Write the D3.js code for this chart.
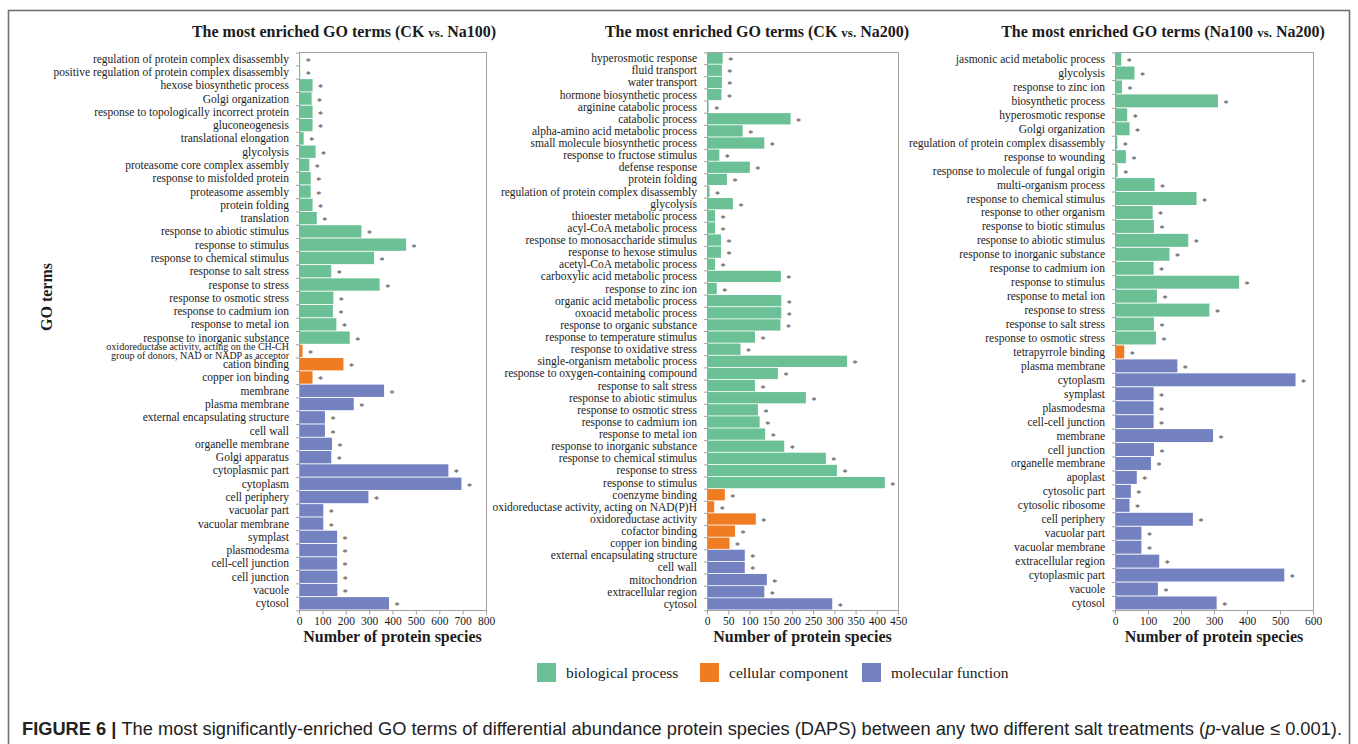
<!DOCTYPE html>
<html>
<head>
<meta charset="utf-8">
<script src="https://cdn.jsdelivr.net/npm/d3@7"></script>
<style>
  body { margin: 0; background: #fff; }
  svg { display: block; }
</style>
</head>
<body>
<svg id="fig" width="1358" height="744"></svg>
<script>
// ---- GO categories (legend order) ----
const categoryLabels = ["biological process", "cellular component", "molecular function"];
const categoryColors = ["#6cc096", "#ef7b22", "#7481c0"];

// ---- CK vs. Na100 ----
const termsCkNa100 = [
  "regulation of protein complex disassembly",
  "positive regulation of protein complex disassembly",
  "hexose biosynthetic process",
  "Golgi organization",
  "response to topologically incorrect protein",
  "gluconeogenesis",
  "translational elongation",
  "glycolysis",
  "proteasome core complex assembly",
  "response to misfolded protein",
  "proteasome assembly",
  "protein folding",
  "translation",
  "response to abiotic stimulus",
  "response to stimulus",
  "response to chemical stimulus",
  "response to salt stress",
  "response to stress",
  "response to osmotic stress",
  "response to cadmium ion",
  "response to metal ion",
  "response to inorganic substance",
  "oxidoreductase activity, acting on the CH-CH\ngroup of donors, NAD or NADP as acceptor",
  "cation binding",
  "copper ion binding",
  "membrane",
  "plasma membrane",
  "external encapsulating structure",
  "cell wall",
  "organelle membrane",
  "Golgi apparatus",
  "cytoplasmic part",
  "cytoplasm",
  "cell periphery",
  "vacuolar part",
  "vacuolar membrane",
  "symplast",
  "plasmodesma",
  "cell-cell junction",
  "cell junction",
  "vacuole",
  "cytosol"
];
const countsCkNa100 = [
  5, 5, 58, 54, 58, 58, 20, 71, 44, 50, 50, 58, 76,
  267, 458, 321, 138, 345, 147, 145, 160, 217,
  15, 190, 58,
  364, 234, 111, 111, 141, 138, 639, 695, 297, 104, 104, 163, 163, 163, 164, 164, 385
];
const categoryCkNa100 = [
  0,0,0,0,0,0,0,0,0,0,0,0,0,0,0,0,0,0,0,0,0,0,
  1,1,1,
  2,2,2,2,2,2,2,2,2,2,2,2,2,2,2,2,2
];
const ticksCkNa100 = [0, 100, 200, 300, 400, 500, 600, 700, 800];

// ---- CK vs. Na200 ----
const termsCkNa200 = [
  "hyperosmotic response",
  "fluid transport",
  "water transport",
  "hormone biosynthetic process",
  "arginine catabolic process",
  "catabolic process",
  "alpha-amino acid metabolic process",
  "small molecule biosynthetic process",
  "response to fructose stimulus",
  "defense response",
  "protein folding",
  "regulation of protein complex disassembly",
  "glycolysis",
  "thioester metabolic process",
  "acyl-CoA metabolic process",
  "response to monosaccharide stimulus",
  "response to hexose stimulus",
  "acetyl-CoA metabolic process",
  "carboxylic acid metabolic process",
  "response to zinc ion",
  "organic acid metabolic process",
  "oxoacid metabolic process",
  "response to organic substance",
  "response to temperature stimulus",
  "response to oxidative stress",
  "single-organism metabolic process",
  "response to oxygen-containing compound",
  "response to salt stress",
  "response to abiotic stimulus",
  "response to osmotic stress",
  "response to cadmium ion",
  "response to metal ion",
  "response to inorganic substance",
  "response to chemical stimulus",
  "response to stress",
  "response to stimulus",
  "coenzyme binding",
  "oxidoreductase activity, acting on NAD(P)H",
  "oxidoreductase activity",
  "cofactor binding",
  "copper ion binding",
  "external encapsulating structure",
  "cell wall",
  "mitochondrion",
  "extracellular region",
  "cytosol"
];
const countsCkNa200 = [
  37, 35, 35, 34, 4, 197, 84, 135, 29, 101, 47, 6, 61, 19, 19,
  33, 33, 19, 174, 23, 175, 175, 173, 113, 79, 330, 167, 113, 233, 120, 124, 137,
  182, 280, 306, 419,
  42, 17, 115, 66, 53,
  89, 89, 141, 135, 295
];
const categoryCkNa200 = [
  0,0,0,0,0,0,0,0,0,0,0,0,0,0,0,0,0,0,0,0,0,0,0,0,0,0,0,0,0,0,0,0,0,0,0,0,
  1,1,1,1,1,
  2,2,2,2,2
];
const ticksCkNa200 = [0, 50, 100, 150, 200, 250, 300, 350, 400, 450];

// ---- Na100 vs. Na200 ----
const termsNa100Na200 = [
  "jasmonic acid metabolic process",
  "glycolysis",
  "response to zinc ion",
  "biosynthetic process",
  "hyperosmotic response",
  "Golgi organization",
  "regulation of protein complex disassembly",
  "response to wounding",
  "response to molecule of fungal origin",
  "multi-organism process",
  "response to chemical stimulus",
  "response to other organism",
  "response to biotic stimulus",
  "response to abiotic stimulus",
  "response to inorganic substance",
  "response to cadmium ion",
  "response to stimulus",
  "response to metal ion",
  "response to stress",
  "response to salt stress",
  "response to osmotic stress",
  "tetrapyrrole binding",
  "plasma membrane",
  "cytoplasm",
  "symplast",
  "plasmodesma",
  "cell-cell junction",
  "membrane",
  "cell junction",
  "organelle membrane",
  "apoplast",
  "cytosolic part",
  "cytosolic ribosome",
  "cell periphery",
  "vacuolar part",
  "vacuolar membrane",
  "extracellular region",
  "cytoplasmic part",
  "vacuole",
  "cytosol"
];
const countsNa100Na200 = [
  19, 59, 21, 312, 37, 44, 7, 33, 8, 120, 247, 114, 118,
  222, 165, 117, 376, 127, 286, 118, 124,
  28,
  189, 547, 117, 117, 117, 297, 118, 109, 66, 48, 44, 236, 80, 80, 134, 513, 130, 308
];
const categoryNa100Na200 = [
  0,0,0,0,0,0,0,0,0,0,0,0,0,0,0,0,0,0,0,0,0,
  1,
  2,2,2,2,2,2,2,2,2,2,2,2,2,2,2,2,2,2
];
const ticksNa100Na200 = [0, 100, 200, 300, 400, 500, 600];

const panelTitles = [
  ["The most enriched GO terms (CK ", "vs.", " Na100)"],
  ["The most enriched GO terms (CK ", "vs.", " Na200)"],
  ["The most enriched GO terms (Na100 ", "vs.", " Na200)"]
];
const xAxisTitle = "Number of protein species";
const yAxisTitle = "GO terms";

// ---- drawing ----
const svg = d3.select("#fig");
const serif = "'Liberation Serif', 'Times New Roman', serif";
const sans = "'Liberation Sans', Arial, Helvetica, sans-serif";
const ink = "#1c1c1c";

// figure frame
svg.append("rect")
  .attr("x", 8.5).attr("y", 10.5)
  .attr("width", 1341).attr("height", 780)
  .attr("fill", "none").attr("stroke", "#707070").attr("stroke-width", 1.6);

const plotTop = 52, plotBottom = 610;

const panels = [
  { terms: termsCkNa100, counts: countsCkNa100, cats: categoryCkNa100, ticks: ticksCkNa100,
    left: 299, right: 486, title: panelTitles[0], titleX: 344 },
  { terms: termsCkNa200, counts: countsCkNa200, cats: categoryCkNa200, ticks: ticksCkNa200,
    left: 707, right: 898, title: panelTitles[1], titleX: 757 },
  { terms: termsNa100Na200, counts: countsNa100Na200, cats: categoryNa100Na200, ticks: ticksNa100Na200,
    left: 1115, right: 1313, title: panelTitles[2], titleX: 1163 }
];

panels.forEach(p => {
  const g = svg.append("g");
  const n = p.terms.length;
  const x = d3.scaleLinear()
    .domain([0, p.ticks[p.ticks.length - 1]])
    .range([p.left, p.right]);
  const y = d3.scaleBand()
    .domain(d3.range(n))
    .range([plotTop, plotBottom])
    .paddingInner(0.07)
    .paddingOuter(0.04);
  const step = y.step();

  // bars
  g.selectAll("rect.bar").data(d3.range(n)).join("rect")
    .attr("class", "bar")
    .attr("x", x(0))
    .attr("y", i => y(i))
    .attr("width", i => Math.max(0.8, x(p.counts[i]) - x(0)))
    .attr("height", y.bandwidth())
    .attr("fill", i => categoryColors[p.cats[i]]);

  // significance stars
  g.selectAll("text.star").data(d3.range(n)).join("text")
    .attr("class", "star")
    .attr("x", i => x(p.counts[i]) + 8)
    .attr("y", i => y(i) + y.bandwidth() / 2 + 6)
    .attr("text-anchor", "middle")
    .attr("font-family", serif)
    .attr("font-size", 10)
    .attr("fill", "#444")
    .text("*");

  // plot frame
  g.append("rect")
    .attr("x", p.left + 0.5).attr("y", plotTop + 0.5)
    .attr("width", p.right - p.left).attr("height", plotBottom - plotTop)
    .attr("fill", "none").attr("stroke", "#a3a3a3").attr("stroke-width", 1);

  // category ticks at band boundaries
  const edge = i => plotTop + y.paddingOuter() * step + i * step
    - (i > 0 && i < n ? y.paddingInner() * step / 2 : 0) + 0.5;
  g.selectAll("line.ytick").data(d3.range(n + 1)).join("line")
    .attr("class", "ytick")
    .attr("x1", p.left - 3).attr("x2", p.left)
    .attr("y1", edge).attr("y2", edge)
    .attr("stroke", "#a3a3a3");

  // category labels
  const labels = g.selectAll("text.term").data(d3.range(n)).join("text")
    .attr("class", "term")
    .attr("text-anchor", "end")
    .attr("font-family", serif)
    .attr("font-size", 11.5)
    .attr("fill", ink);
  labels.each(function(i) {
    const lines = p.terms[i].split("\n");
    const cy = y(i) + y.bandwidth() / 2;
    const t = d3.select(this);
    if (lines.length === 1) {
      t.append("tspan").attr("x", p.left - 10).attr("y", cy + 4).text(lines[0]);
    } else {
      // two-line term squeezed between its neighbours
      t.attr("font-size", 10);
      lines.forEach((ln, k) => {
        t.append("tspan").attr("x", p.left - 10)
          .attr("y", cy + 3.3 + (k - (lines.length - 1) / 2) * 9)
          .text(ln);
      });
    }
  });

  // x axis
  const ax = g.append("g")
    .attr("transform", `translate(0,${plotBottom + 0.5})`)
    .call(d3.axisBottom(x).tickValues(p.ticks).tickSize(4).tickSizeOuter(0).tickPadding(2));
  ax.select(".domain").remove();
  ax.selectAll(".tick line").attr("stroke", "#a3a3a3");
  ax.selectAll(".tick text")
    .attr("font-family", serif).attr("font-size", 11.5).attr("fill", ink);

  // x axis title
  g.append("text")
    .attr("x", (p.left + p.right) / 2).attr("y", 642)
    .attr("text-anchor", "middle")
    .attr("font-family", serif).attr("font-weight", "bold").attr("font-size", 16)
    .attr("fill", ink)
    .text(xAxisTitle);

  // panel title
  const tt = g.append("text")
    .attr("x", p.titleX).attr("y", 37)
    .attr("text-anchor", "middle")
    .attr("font-family", serif).attr("font-weight", "bold").attr("font-size", 16)
    .attr("fill", ink);
  tt.append("tspan").text(p.title[0]);
  tt.append("tspan").attr("font-size", 13).text(p.title[1]);
  tt.append("tspan").text(p.title[2]);
});

// y axis title
svg.append("text")
  .attr("transform", "translate(52,297) rotate(-90)")
  .attr("text-anchor", "middle")
  .attr("font-family", serif).attr("font-weight", "bold").attr("font-size", 16)
  .attr("fill", ink)
  .text(yAxisTitle);

// legend
const legendX = [537, 700, 862];
const lg = svg.append("g");
categoryLabels.forEach((lab, k) => {
  lg.append("rect")
    .attr("x", legendX[k]).attr("y", 663)
    .attr("width", 19).attr("height", 19)
    .attr("fill", categoryColors[k]);
  lg.append("text")
    .attr("x", legendX[k] + 29).attr("y", 678)
    .attr("font-family", serif).attr("font-size", 15.5)
    .attr("fill", ink)
    .text(lab);
});

// caption
const cap = svg.append("text")
  .attr("x", 22).attr("y", 735)
  .attr("font-family", sans).attr("font-size", 17)
  .attr("fill", "#222");
cap.append("tspan").attr("font-weight", "bold").text("FIGURE 6 | ");
cap.append("tspan").text("The most significantly-enriched GO terms of differential abundance protein species (DAPS) between any two different salt treatments (");
cap.append("tspan").attr("font-style", "italic").text("p");
cap.append("tspan").text("-value \u2264 0.001).");
// fit the caption to the frame width
const capW = cap.node().getComputedTextLength();
cap.attr("font-size", 17 * 1320 / capW);
</script>
</body>
</html>
